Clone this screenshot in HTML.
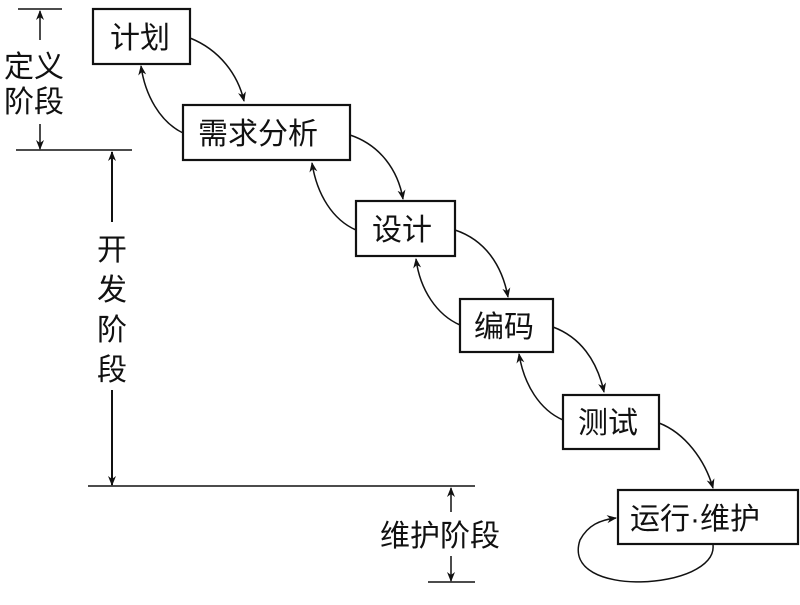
<!DOCTYPE html>
<html><head><meta charset="utf-8"><style>
body{margin:0;background:#fff;}
svg text{font-family:"Liberation Sans","Noto Sans CJK SC",sans-serif;font-size:30px;fill:#111;}
</style></head><body>
<svg width="800" height="600" viewBox="0 0 800 600" xmlns="http://www.w3.org/2000/svg">
<defs><marker id="a" markerWidth="10" markerHeight="10" refX="9" refY="5" orient="auto" markerUnits="userSpaceOnUse"><path d="M0,1 L10,5 L0,9 L3,5z" fill="#111"/></marker></defs>
<g fill="none" stroke="#111" stroke-width="2.2">
<rect x="93" y="9" width="97" height="55"/>
<rect x="183" y="105" width="167" height="55"/>
<rect x="356" y="201" width="99" height="55"/>
<rect x="460" y="299" width="93" height="53"/>
<rect x="563" y="395" width="96" height="54"/>
<rect x="618" y="490" width="180" height="54"/>
</g>
<g fill="none" stroke="#111" stroke-width="1.5">
<line x1="18" y1="9" x2="62" y2="9"/><line x1="16" y1="150" x2="132" y2="150"/>
<line x1="88" y1="486" x2="475" y2="486"/><line x1="428" y1="582" x2="475" y2="582"/>
<line x1="40" y1="40" x2="40" y2="11" marker-end="url(#a)"/>
<line x1="40" y1="124" x2="40" y2="149" marker-end="url(#a)"/>
<line x1="112" y1="222" x2="112" y2="152" stroke-width="2" marker-end="url(#a)"/>
<line x1="112" y1="390" x2="112" y2="485" stroke-width="2" marker-end="url(#a)"/>
<line x1="451" y1="512" x2="451" y2="488" marker-end="url(#a)"/>
<line x1="451" y1="556" x2="451" y2="581" marker-end="url(#a)"/>
<path d="M190,38 C220,50 238,75 244,101" marker-end="url(#a)"/>
<path d="M183,133 C160,122 145,95 141,66" marker-end="url(#a)"/>
<path d="M350,135 C380,145 398,170 403,199" marker-end="url(#a)"/>
<path d="M356,230 C333,220 317,195 312,163" marker-end="url(#a)"/>
<path d="M455,230 C485,240 502,265 508,297" marker-end="url(#a)"/>
<path d="M460,325 C437,315 420,290 416,259" marker-end="url(#a)"/>
<path d="M553,327 C580,337 597,360 604,392" marker-end="url(#a)"/>
<path d="M563,420 C540,410 524,385 519,354" marker-end="url(#a)"/>
<path d="M659,423 C685,433 705,460 713,488" marker-end="url(#a)"/>
<path d="M713,545 C718,590 560,600 580,540 C588,525 600,520 616,518" marker-end="url(#a)"/>
</g>
<text x="110" y="48">计划</text>
<text x="198" y="144">需求分析</text>
<text x="372" y="240">设计</text>
<text x="474" y="337">编码</text>
<text x="578" y="433">测试</text>
<text x="630" y="529">运行·维护</text>
<text x="4" y="77">定义</text>
<text x="4" y="112">阶段</text>
<text x="97" y="260">开</text>
<text x="97" y="300">发</text>
<text x="97" y="340">阶</text>
<text x="97" y="380">段</text>
<text x="380" y="546">维护阶段</text>
</svg>
</body></html>
